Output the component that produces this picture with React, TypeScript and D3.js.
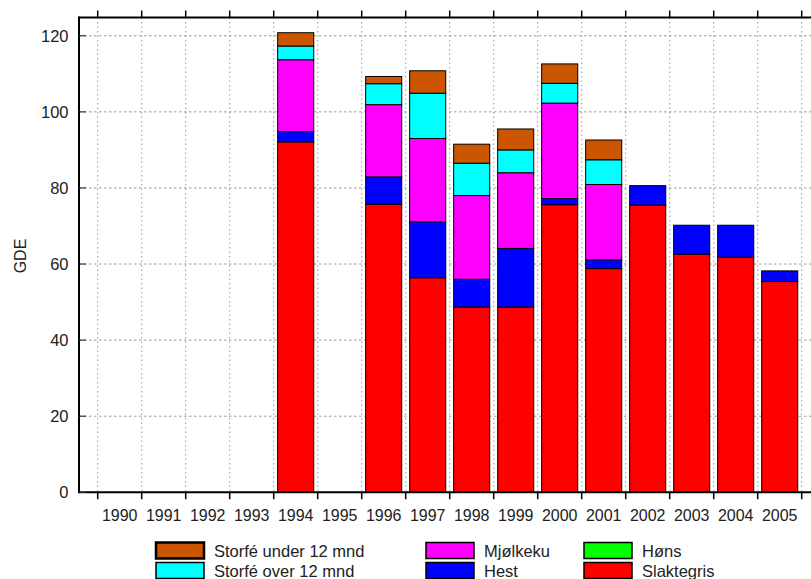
import React from 'react';
import * as d3 from 'd3';

const years = ['1990', '1991', '1992', '1993', '1994', '1995', '1996', '1997', '1998', '1999', '2000', '2001', '2002', '2003', '2004', '2005'];

// bottom to top
const slaktegris = [0, 0, 0, 0, 92.1, 0, 75.7, 56.4, 48.7, 48.7, 75.6, 58.8, 75.5, 62.6, 61.8, 55.4];
const hest = [0, 0, 0, 0, 2.7, 0, 7.2, 14.7, 7.3, 15.4, 1.6, 2.3, 5.1, 7.6, 8.4, 2.8];
const mjolkeku = [0, 0, 0, 0, 18.9, 0, 19.0, 21.9, 22.0, 19.9, 25.1, 19.8, 0, 0, 0, 0];
const hons = [0, 0, 0, 0, 0, 0, 0, 0, 0, 0, 0, 0, 0, 0, 0, 0];
const storfeOver = [0, 0, 0, 0, 3.6, 0, 5.5, 11.9, 8.5, 6.0, 5.2, 6.5, 0, 0, 0, 0];
const storfeUnder = [0, 0, 0, 0, 3.5, 0, 1.9, 5.9, 5.0, 5.5, 5.1, 5.2, 0, 0, 0, 0];

const seriesKeys = ['slaktegris', 'hest', 'mjolkeku', 'hons', 'storfeOver', 'storfeUnder'];
const seriesColors: Record<string, string> = {
  slaktegris: '#ff0000',
  hest: '#0000ff',
  mjolkeku: '#ff00ff',
  hons: '#00ff00',
  storfeOver: '#00ffff',
  storfeUnder: '#cc5500',
};
const yTicks = [0, 20, 40, 60, 80, 100, 120];

// legend layout: column by column, two rows
const legendItems = [
  { key: 'storfeUnder', label: 'Storfé under 12 mnd', col: 0, row: 0 },
  { key: 'storfeOver', label: 'Storfé over 12 mnd', col: 0, row: 1 },
  { key: 'mjolkeku', label: 'Mjølkeku', col: 1, row: 0 },
  { key: 'hest', label: 'Hest', col: 1, row: 1 },
  { key: 'hons', label: 'Høns', col: 2, row: 0 },
  { key: 'slaktegris', label: 'Slaktegris', col: 2, row: 1 },
];
const legendColX = [156, 426, 584];

const W = 811;
const H = 579;
const left = 79;
const top = 17.5;
const bottom = 492.3;
const font = '"Liberation Sans", Arial, Helvetica, sans-serif';

export default function App() {
  const table = years.map((y, i) => ({
    year: y,
    slaktegris: slaktegris[i],
    hest: hest[i],
    mjolkeku: mjolkeku[i],
    hons: hons[i],
    storfeOver: storfeOver[i],
    storfeUnder: storfeUnder[i],
  }));

  const stacked = d3.stack<any>().keys(seriesKeys)(table);

  const x = d3.scaleBand<string>()
    .domain(years)
    .range([97.7, 801.7])
    .paddingInner(0.18)
    .paddingOuter(0.09);

  const y = d3.scaleLinear().domain([0, 124.8]).range([bottom, top]);

  const gap = (x.step() - x.bandwidth()) / 2;
  const boundaries = years.map(yr => (x(yr) as number) - gap);
  boundaries.push((x(years[years.length - 1]) as number) + x.bandwidth() + gap);

  return (
    <svg width={W} height={H} style={{ position: 'fixed', left: 0, top: 0, background: '#fff' }}>
      <rect x={0} y={0} width={W} height={H} fill="#fff" />

      {/* grid */}
      {boundaries.map((bx, i) => (
        <line key={'vg' + i} x1={bx} x2={bx} y1={top} y2={bottom} stroke="#999" strokeWidth={1} strokeDasharray="1.5,3" />
      ))}
      {yTicks.filter(t => t > 0).map(t => (
        <line key={'hg' + t} x1={left} x2={W + 10} y1={y(t)} y2={y(t)} stroke="#999" strokeWidth={1} strokeDasharray="2.5,2.5" />
      ))}

      {/* bars */}
      {stacked.map(s => (
        <g key={s.key} fill={seriesColors[s.key]} stroke="#000" strokeWidth={1}>
          {s.filter(d => d[1] - d[0] > 0).map(d => (
            <rect
              key={d.data.year}
              x={x(d.data.year)}
              y={y(d[1])}
              width={x.bandwidth()}
              height={y(d[0]) - y(d[1])}
            />
          ))}
        </g>
      ))}

      {/* frame */}
      <line x1={left} x2={W + 10} y1={bottom} y2={bottom} stroke="#000" strokeWidth={2} />
      <line x1={left} x2={W + 10} y1={top} y2={top} stroke="#000" strokeWidth={2} />
      <line x1={left} x2={left} y1={top - 1} y2={bottom + 1} stroke="#000" strokeWidth={2} />

      {/* x ticks */}
      {boundaries.map((bx, i) => (
        <g key={'xt' + i}>
          <line x1={bx} x2={bx} y1={bottom} y2={bottom + 7} stroke="#000" strokeWidth={1.5} />
          <line x1={bx} x2={bx} y1={top} y2={top - 7} stroke="#000" strokeWidth={1.5} />
        </g>
      ))}
      {years.map(yr => (
        <text
          key={'xl' + yr}
          x={(x(yr) as number) + x.bandwidth() / 2}
          y={520.5}
          textAnchor="middle"
          fontFamily={font}
          fontSize={16}
          fill="#222"
        >
          {yr}
        </text>
      ))}

      {/* y ticks */}
      {yTicks.map(t => (
        <g key={'yt' + t}>
          <line x1={left} x2={left + 7} y1={y(t)} y2={y(t)} stroke="#333" strokeWidth={1.2} />
          <text x={68.5} y={y(t)} dy="0.36em" textAnchor="end" fontFamily={font} fontSize={16.5} fill="#222">
            {t}
          </text>
        </g>
      ))}

      <text
        transform={`translate(25.5,256) rotate(-90)`}
        textAnchor="middle"
        fontFamily={font}
        fontSize={16}
        fill="#222"
      >
        GDE
      </text>

      {/* legend */}
      {legendItems.map(item => {
        const lx = legendColX[item.col];
        const ly = 542.5 + item.row * 20;
        return (
          <g key={'lg' + item.key}>
            <rect x={lx} y={ly} width={48} height={16} fill={seriesColors[item.key]} stroke="#000" strokeWidth={item.row === 0 && item.col === 0 ? 2.5 : 1.5} />
            <text x={lx + 58} y={ly + 14.3} fontFamily={font} fontSize={16.5} fill="#222">
              {item.label}
            </text>
          </g>
        );
      })}
    </svg>
  );
}
